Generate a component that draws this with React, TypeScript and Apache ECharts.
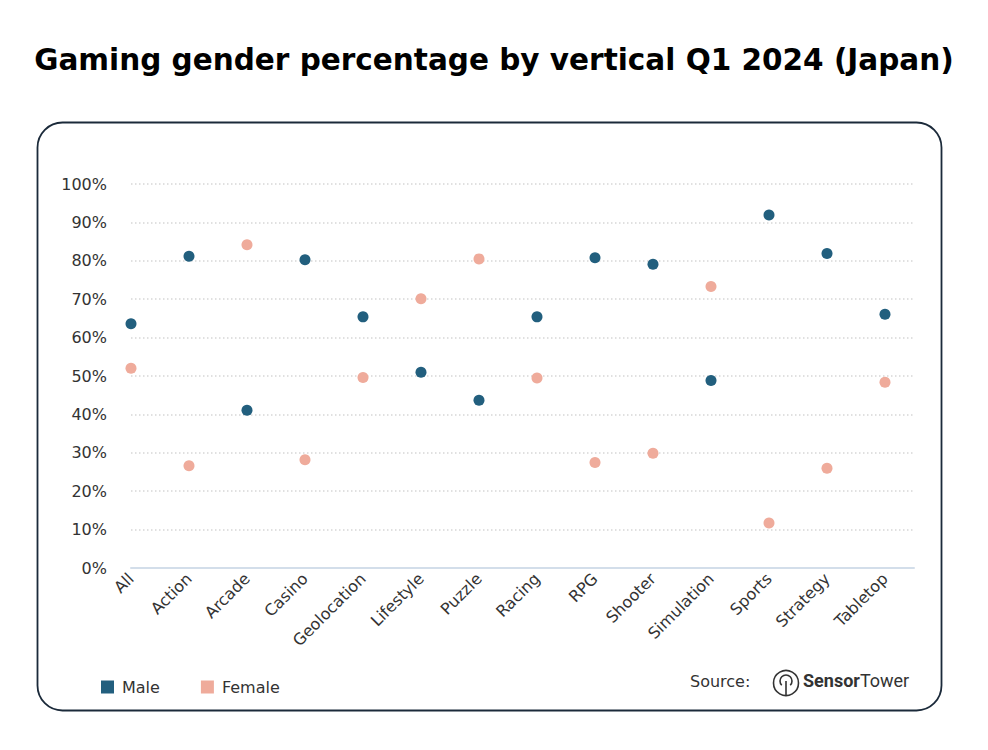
import React, { useEffect, useRef } from "react";
import * as echarts from "echarts";

const categories = [
  "All", "Action", "Arcade", "Casino", "Geolocation", "Lifestyle", "Puzzle",
  "Racing", "RPG", "Shooter", "Simulation", "Sports", "Strategy", "Tabletop",
];
const maleValues = [63.6, 81.2, 41.1, 80.3, 65.4, 51.0, 43.7, 65.4, 80.8, 79.1, 48.8, 91.9, 81.9, 66.1];
const femaleValues = [52.0, 26.6, 84.2, 28.2, 49.6, 70.1, 80.5, 49.5, 27.5, 29.9, 73.3, 11.7, 26.0, 48.4];
const yTicks = [0, 10, 20, 30, 40, 50, 60, 70, 80, 90, 100];

const MALE = "#225f7e";
const FEMALE = "#efab9b";
const FONT = "DejaVu Sans";

export default function App() {
  const ref = useRef<HTMLDivElement>(null);
  useEffect(() => {
    if (!ref.current) return;
    const chart = echarts.init(ref.current, null, { renderer: "svg" });
    const toPoints = (vals: number[]) => vals.map((v, i) => [i, v]);
    chart.setOption({
      animation: false,
      backgroundColor: "#ffffff",
      title: {
        text: "Gaming gender percentage by vertical Q1 2024 (Japan)",
        left: "center",
        top: 40,
        textStyle: { fontFamily: FONT, fontSize: 29.5, fontWeight: "bold", color: "#000000" },
      },
      legend: {
        left: 96,
        top: 674,
        icon: "rect",
        itemWidth: 13,
        itemHeight: 13,
        itemGap: 41,
        textStyle: { fontFamily: FONT, fontSize: 16, color: "#333333", padding: [0, 0, 0, 3] },
        data: ["Male", "Female"],
      },
      grid: { left: 131, right: 74, top: 184, bottom: 182, containLabel: false },
      xAxis: {
        type: "value",
        min: 0,
        max: categories.length - 0.5,
        interval: 1,
        splitLine: { show: false },
        axisTick: { show: false },
        axisLine: { show: true, lineStyle: { color: "#d3deea", width: 2 } },
        axisLabel: {
          rotate: 45,
          margin: 8,
          fontFamily: FONT,
          fontSize: 16,
          color: "#333333",
          showMaxLabel: false,
          formatter: (v: number) => (Number.isInteger(v) && categories[v] !== undefined ? categories[v] : ""),
        },
      },
      yAxis: {
        type: "value",
        min: yTicks[0],
        max: yTicks[yTicks.length - 1],
        interval: 10,
        axisLine: { show: false },
        axisTick: { show: false },
        splitLine: { show: true, lineStyle: { color: "#d6d6d6", type: [1.5, 2.5], width: 1.5 } },
        axisLabel: {
          margin: 24,
          fontFamily: FONT,
          fontSize: 16,
          color: "#333333",
          formatter: (v: number) => v + "%",
        },
      },
      series: [
        {
          name: "Male",
          type: "scatter",
          symbolSize: 11,
          itemStyle: { color: MALE, opacity: 1 },
          data: toPoints(maleValues),
          z: 3,
        },
        {
          name: "Female",
          type: "scatter",
          symbolSize: 11,
          itemStyle: { color: FEMALE, opacity: 1 },
          data: toPoints(femaleValues),
          z: 3,
        },
      ],
      graphic: [
        {
          type: "rect",
          z: -10,
          silent: true,
          shape: { x: 37.5, y: 122.5, width: 904, height: 588, r: 25 },
          style: { fill: "none", stroke: "#1b2a3a", lineWidth: 1.8 },
        },
        {
          type: "text",
          left: 690,
          top: 673,
          style: { text: "Source:", font: `16px "${FONT}"`, fill: "#333333" },
        },
        {
          type: "group",
          left: 771,
          top: 668,
          children: [
            { type: "circle", shape: { cx: 13, cy: 13, r: 12.5 }, style: { fill: "none", stroke: "#333333", lineWidth: 1.6 } },
            { type: "arc", shape: { cx: 13, cy: 11, r: 6, startAngle: Math.PI * 0.75, endAngle: Math.PI * 2.25, clockwise: true }, style: { fill: "none", stroke: "#333333", lineWidth: 1.6 } },
            { type: "line", shape: { x1: 13, y1: 11, x2: 13, y2: 25.5 }, style: { stroke: "#333333", lineWidth: 1.6 } },
          ],
        },
        {
          type: "text",
          left: 803,
          top: 671,
          style: {
            text: "{b|Sensor}{r|Tower}",
            rich: {
              b: { fontFamily: "Roboto", fontSize: 18, fontWeight: "bold", fill: "#333333", color: "#333333" },
              r: { fontFamily: "Roboto", fontSize: 18, fontWeight: "normal", fill: "#333333", color: "#333333" },
            },
          },
        },
      ],
    });
    return () => chart.dispose();
  }, []);
  return <div ref={ref} style={{ position: "absolute", left: 0, top: 0, width: 988, height: 750 }} />;
}
